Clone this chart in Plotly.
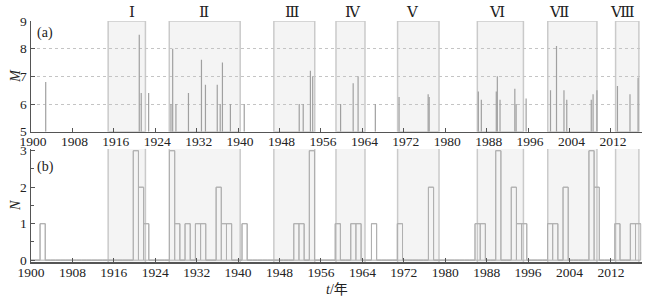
import plotly.graph_objects as go

# ---------------- data ----------------
eq_year = [1902.84, 1920.91, 1921.29, 1922.72, 1927.03, 1927.36, 1927.99, 1930.41,
           1932.92, 1933.69, 1935.97, 1936.54, 1936.97, 1938.51, 1941.18, 1951.80,
           1952.57, 1953.96, 1954.40, 1959.79, 1962.22, 1963.17, 1966.50, 1971.08,
           1976.70, 1976.90, 1986.39, 1986.97, 1989.86, 1990.06, 1990.58, 1993.44,
           1993.69, 1995.62, 2000.33, 2001.49, 2002.93, 2003.47, 2008.20, 2008.55,
           2009.30, 2013.26, 2015.68, 2017.24]
eq_mag = [6.8, 8.5, 6.4, 6.4, 6.0, 8.0, 6.0, 6.4,
          7.6, 6.7, 6.7, 6.0, 7.5, 6.0, 6.0, 6.0,
          6.0, 7.2, 7.0, 6.0, 6.75, 7.0, 6.0, 6.25,
          6.35, 6.25, 6.45, 6.15, 6.45, 7.0, 6.15, 6.55,
          6.0, 6.2, 6.5, 8.1, 6.5, 6.15, 6.15, 6.35,
          6.5, 6.65, 6.35, 6.95]

count_years = list(range(1900, 2018))
count_nonzero = {1902: 1, 1920: 3, 1921: 2, 1922: 1, 1927: 3, 1928: 1, 1930: 1,
                 1932: 1, 1933: 1, 1936: 2, 1937: 1, 1938: 1, 1941: 1, 1951: 1,
                 1952: 1, 1954: 3, 1959: 1, 1962: 1, 1963: 1, 1966: 1, 1971: 1,
                 1977: 2, 1986: 1, 1987: 1, 1990: 3, 1993: 2, 1994: 1, 1995: 1,
                 2000: 1, 2001: 1, 2003: 2, 2008: 3, 2009: 2, 2013: 1, 2016: 1,
                 2017: 1}
count_values = [count_nonzero.get(y, 0) for y in count_years]

period_names = ["Ⅰ", "Ⅱ", "Ⅲ", "Ⅳ", "Ⅴ", "Ⅵ", "Ⅶ", "Ⅷ"]
period_start = [1914.9, 1926.7, 1946.9, 1958.9, 1970.8, 1986.2, 1999.8, 2012.9]
period_end = [1922.1, 1940.4, 1954.8, 1964.5, 1978.8, 1995.1, 2009.3, 2017.4]
period_label_x = [1919.5, 1933.5, 1950.4, 1962.1, 1973.7, 1990.0, 2001.9, 2014.2]

x_ticks = list(range(1900, 2013, 8))

# ---------------- style ----------------
SERIF = "Liberation Serif, Times New Roman, DejaVu Serif, serif"
TXT = "#222222"
AX = "#555555"
STEM = "#a0a0a0"
BAR = "#b0b0b0"
SHADE_FILL = "#f4f4f4"
SHADE_LINE = "#cacaca"
BAR_SHIFT = -0.25

fig = go.Figure()

# shaded periods
for s, e in zip(period_start, period_end):
    fig.add_shape(type="rect", xref="x", yref="y", x0=s, x1=e, y0=5, y1=9,
                  fillcolor=SHADE_FILL, line=dict(color=SHADE_LINE, width=1.5),
                  layer="below")
    fig.add_shape(type="rect", xref="x2", yref="y2 domain", x0=s, x1=e, y0=0, y1=1,
                  fillcolor=SHADE_FILL, line=dict(width=0), layer="below")
    for xv in (s, e):
        fig.add_shape(type="line", xref="x2", yref="y2 domain", x0=xv, x1=xv,
                      y0=0, y1=1, line=dict(color=SHADE_LINE, width=1.5),
                      layer="below")

# stems (panel a)
sx, sy = [], []
for yr, m in zip(eq_year, eq_mag):
    sx += [yr, yr, None]
    sy += [5, m, None]
fig.add_trace(go.Scatter(x=sx, y=sy, mode="lines", line=dict(color=STEM, width=1.2),
                         xaxis="x", yaxis="y", hoverinfo="skip", showlegend=False))

# counts (panel b): outlined bars + step envelope
fig.add_trace(go.Bar(x=count_years, y=count_values, width=1, offset=BAR_SHIFT,
                     marker=dict(color="rgba(0,0,0,0)", line=dict(color=BAR, width=1)),
                     xaxis="x2", yaxis="y2", showlegend=False, hoverinfo="skip"))
step_x = [y + BAR_SHIFT for y in count_years] + [count_years[-1] + 1 + BAR_SHIFT]
step_y = count_values + [count_values[-1]]
fig.add_trace(go.Scatter(x=step_x, y=step_y, mode="lines", line_shape="hv",
                         line=dict(color=BAR, width=1), xaxis="x2", yaxis="y2",
                         hoverinfo="skip", showlegend=False))

# period labels
for name, xl in zip(period_names, period_label_x):
    fig.add_annotation(x=xl, xref="x", y=1, yref="paper", yshift=9, text=name,
                       showarrow=False, font=dict(family=SERIF, size=15, color=TXT),
                       yanchor="middle")

fig.add_annotation(x=0.006, xref="paper", y=8.55, yref="y", text="(a)", showarrow=False,
                   xanchor="left", font=dict(family=SERIF, size=14, color=TXT))
fig.add_annotation(x=0.006, xref="paper", y=2.55, yref="y2", text="(b)", showarrow=False,
                   xanchor="left", font=dict(family=SERIF, size=14, color=TXT))
fig.add_annotation(x=0, xref="paper", xshift=-25, y=7, yref="y", text="<i>M</i>",
                   showarrow=False, textangle=-90,
                   font=dict(family=SERIF, size=14, color=TXT))
fig.add_annotation(x=0, xref="paper", xshift=-25, y=1.5, yref="y2", text="<i>N</i>",
                   showarrow=False, textangle=-90,
                   font=dict(family=SERIF, size=14, color=TXT))
fig.add_annotation(x=0.5, xref="paper", y=0, yref="paper", yshift=-27, text="<i>t</i>/年",
                   showarrow=False, yanchor="middle",
                   font=dict(family=SERIF + ", Noto Sans CJK SC", size=14, color=TXT))

xaxis_common = dict(range=[1900, 2018], tickvals=x_ticks, ticks="inside", ticklen=4,
                    tickcolor=AX, showline=True, linecolor=AX, linewidth=1.5,
                    showgrid=False, zeroline=False, automargin=False,
                    ticklabelstandoff=-3,
                    tickfont=dict(family=SERIF, size=13.5, color=TXT))

fig.update_layout(
    width=650, height=300,
    margin=dict(l=31, r=8, t=21, b=38),
    paper_bgcolor="white", plot_bgcolor="rgba(0,0,0,0)",
    bargap=0,
    xaxis=dict(anchor="y", ticklabelshift=2, **xaxis_common),
    xaxis2=dict(anchor="y2", **xaxis_common),
    yaxis=dict(domain=[0.5407, 1], range=[5, 9], tickvals=[5, 6, 7, 8, 9],
               ticks="inside", ticklen=4, tickcolor=AX, showline=True, linecolor=AX,
               linewidth=1.5, showgrid=True, gridcolor="#c4c4c4", griddash="dot",
               gridwidth=1, zeroline=False, automargin=False,
               tickfont=dict(family=SERIF, size=13.5, color=TXT)),
    yaxis2=dict(domain=[0, 0.4693], range=[-0.05, 3.05], tickvals=[0, 1, 2, 3],
                ticks="inside", ticklen=4, tickcolor=AX, showline=True, linecolor=AX,
                linewidth=1.5, showgrid=False, zeroline=False, automargin=False,
                minor=dict(dtick=0.5, tick0=0, ticks="inside", ticklen=3, tickcolor=AX),
                tickfont=dict(family=SERIF, size=13.5, color=TXT)),
)

fig.write_html("out.html",
               config={"displayModeBar": False, "staticPlot": True},
               post_script="document.body.style.margin='0';"
                           "document.body.style.overflow='hidden';")
